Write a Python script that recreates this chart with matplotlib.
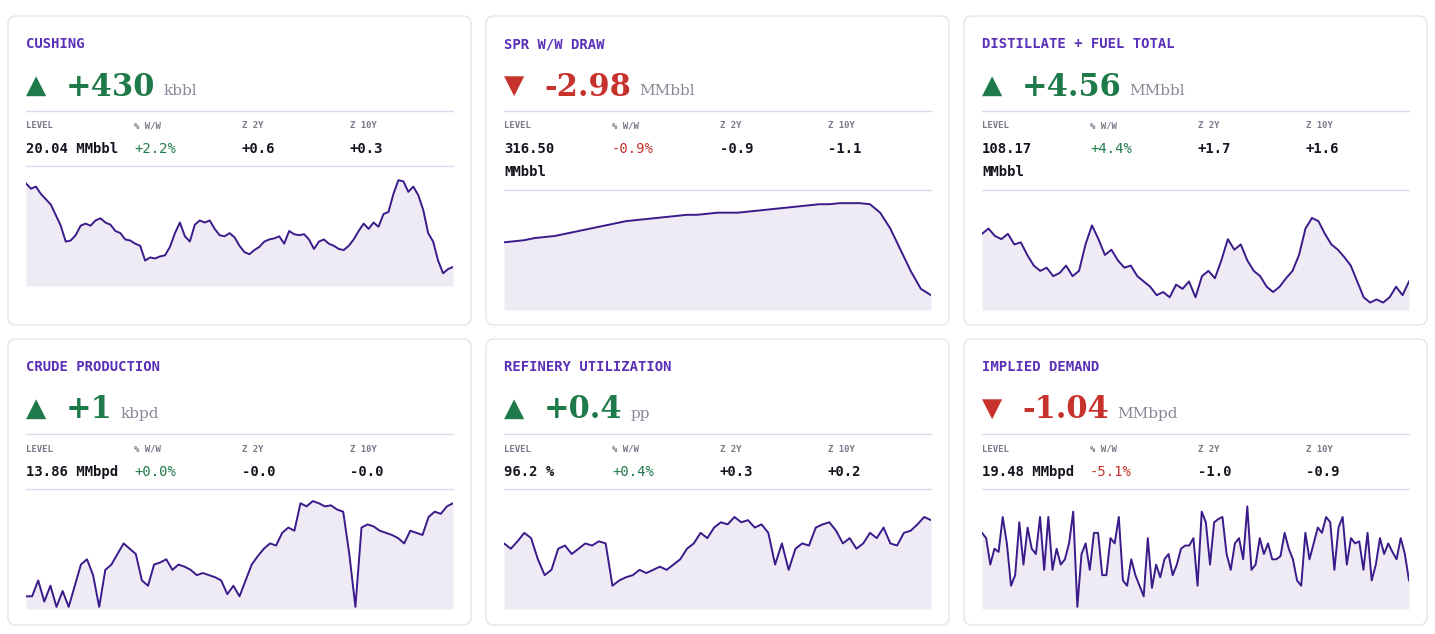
import matplotlib
matplotlib.use('agg')
import matplotlib.pyplot as plt
from matplotlib.patches import FancyBboxPatch

W, H = 1435, 634
GREEN = '#1f7a4a'
RED = '#c8322d'
PURPLE = '#5a2fb8'
LINE = '#3b1a8a'
FILL = '#efebf5'
SEP = '#dcd8ec'

cards = [
    {'title': 'CUSHING', 'up': True, 'delta': '+430', 'unit': 'kbbl',
     'level': ['20.04 MMbbl'], 'pct': '+2.2%', 'z2': '+0.6', 'z10': '+0.3',
     'data': [95, 90, 92, 85, 80, 75, 65, 55, 40, 41, 46, 55, 57, 55, 60, 62, 58, 56, 50, 48, 42, 41, 38, 36,
              22, 25, 24, 26, 27, 35, 48, 58, 45, 40, 56, 60, 58, 60, 52, 46, 45, 48, 44, 36, 30, 28, 32, 35,
              40, 42, 43, 45, 38, 50, 47, 46, 47, 42, 33, 40, 42, 38, 36, 33, 32, 36, 42, 50, 57, 52, 58, 54,
              66, 68, 85, 98, 97, 87, 92, 84, 70, 48, 40, 22, 10, 14, 16]},
    {'title': 'SPR W/W DRAW', 'up': False, 'delta': '-2.98', 'unit': 'MMbbl',
     'level': ['316.50', 'MMbbl'], 'pct': '-0.9%', 'z2': '-0.9', 'z10': '-1.1',
     'data': [62, 63, 64, 66, 67, 68, 70, 72, 74, 76, 78, 80, 82, 83, 84, 85, 86, 87, 88, 88, 89, 90, 90, 90,
              91, 92, 93, 94, 95, 96, 97, 98, 98, 99, 99, 99, 98, 90, 75, 55, 35, 18, 12]},
    {'title': 'DISTILLATE + FUEL TOTAL', 'up': True, 'delta': '+4.56', 'unit': 'MMbbl',
     'level': ['108.17', 'MMbbl'], 'pct': '+4.4%', 'z2': '+1.7', 'z10': '+1.6',
     'data': [70, 75, 68, 65, 70, 60, 62, 50, 40, 35, 38, 30, 33, 40, 30, 35, 60, 78, 65, 50, 55, 45, 38, 40,
              30, 25, 20, 12, 15, 10, 22, 18, 25, 10, 30, 35, 28, 45, 65, 55, 60, 45, 35, 30, 20, 15, 20, 28,
              35, 50, 75, 85, 82, 70, 60, 55, 48, 40, 25, 10, 5, 8, 5, 10, 20, 12, 25]},
    {'title': 'CRUDE PRODUCTION', 'up': True, 'delta': '+1', 'unit': 'kbpd',
     'level': ['13.86 MMbpd'], 'pct': '+0.0%', 'z2': '-0.0', 'z10': '-0.0',
     'data': [10, 10, 25, 5, 20, 0, 15, 0, 20, 40, 45, 30, 0, 35, 40, 50, 60, 55, 50, 25, 20, 40, 42, 45,
              35, 40, 38, 35, 30, 32, 30, 28, 25, 12, 20, 10, 25, 40, 48, 55, 60, 58, 70, 75, 72, 98, 95, 100,
              98, 95, 96, 92, 90, 50, 0, 75, 78, 76, 72, 70, 68, 65, 60, 72, 70, 68, 85, 90, 88, 95, 98]},
    {'title': 'REFINERY UTILIZATION', 'up': True, 'delta': '+0.4', 'unit': 'pp',
     'level': ['96.2 %'], 'pct': '+0.4%', 'z2': '+0.3', 'z10': '+0.2',
     'data': [60, 55, 62, 70, 65, 45, 30, 35, 55, 58, 50, 55, 60, 58, 62, 60, 20, 25, 28, 30, 35, 32, 35, 38,
              35, 40, 45, 55, 60, 70, 65, 75, 80, 78, 85, 80, 82, 75, 78, 70, 40, 60, 35, 55, 60, 58, 75, 78,
              80, 72, 60, 65, 55, 60, 70, 65, 75, 60, 58, 70, 72, 78, 85, 82]},
    {'title': 'IMPLIED DEMAND', 'up': False, 'delta': '-1.04', 'unit': 'MMbpd',
     'level': ['19.48 MMbpd'], 'pct': '-5.1%', 'z2': '-1.0', 'z10': '-0.9',
     'data': [70, 65, 40, 55, 52, 85, 60, 20, 30, 80, 40, 75, 55, 50, 85, 35, 85, 35, 55, 40, 45, 60, 90, 0,
              50, 60, 35, 70, 70, 30, 30, 65, 60, 85, 25, 20, 45, 30, 20, 10, 65, 18, 40, 28, 45, 50, 30, 40,
              55, 58, 58, 65, 20, 90, 80, 40, 80, 83, 85, 50, 35, 60, 65, 45, 95, 35, 40, 65, 50, 60, 45, 45,
              48, 70, 55, 45, 25, 20, 70, 45, 60, 75, 70, 85, 80, 35, 75, 85, 40, 65, 60, 62, 35, 70, 25, 40,
              65, 50, 60, 52, 45, 65, 50, 25]},
]

fig = plt.figure(figsize=(W / 100, H / 100), dpi=100)
bg = fig.add_axes([0, 0, 1, 1])
bg.set_xlim(0, W)
bg.set_ylim(H, 0)
bg.axis('off')

col_x = [8, 486, 964]
row_y = [16, 339]
card_w = 463
row_h = [309, 286]

for i, c in enumerate(cards):
    x0 = col_x[i % 3]
    y0 = row_y[i // 3]
    h = row_h[i // 3]
    bg.add_patch(FancyBboxPatch((x0, y0), card_w, h, boxstyle='round,pad=0,rounding_size=8',
                                fc='white', ec='#e4e4ec', lw=1))
    lx = x0 + 18
    rx = x0 + card_w - 18
    col = GREEN if c['up'] else RED
    bg.text(lx, y0 + 28, c['title'], fontsize=10, fontweight='bold', color=PURPLE,
            family='DejaVu Sans Mono', va='center')
    bg.text(lx, y0 + 70, '▲' if c['up'] else '▼', fontsize=19, color=col, va='center',
            family='DejaVu Sans')
    t = bg.text(lx + 40, y0 + 71, c['delta'], fontsize=22, fontweight='bold', color=col,
                family='DejaVu Serif', va='center')
    fig.canvas.draw() if i == 0 else None
    bb = t.get_window_extent(renderer=fig.canvas.get_renderer())
    bg.text(lx + 40 + bb.width + 8, y0 + 75, c['unit'], fontsize=11, color='#8a8898',
            family='DejaVu Serif', va='center')
    bg.plot([lx, rx], [y0 + 95, y0 + 95], color=SEP, lw=1)
    for k, lab in enumerate(['LEVEL', '% W/W', 'Z 2Y', 'Z 10Y']):
        bg.text(lx + k * 108, y0 + 110, lab, fontsize=6.5, color='#7a7888',
                family='DejaVu Sans Mono', fontweight='bold', va='center')
    for j, lv in enumerate(c['level']):
        bg.text(lx, y0 + 133 + j * 23, lv, fontsize=10, fontweight='bold', color='#15151f',
                family='DejaVu Sans Mono', va='center')
    pcol = GREEN if c['pct'].startswith('+') else RED
    bg.text(lx + 108, y0 + 133, c['pct'], fontsize=10, color=pcol, family='DejaVu Sans Mono', va='center')
    bg.text(lx + 216, y0 + 133, c['z2'], fontsize=10, fontweight='bold', color='#15151f',
            family='DejaVu Sans Mono', va='center')
    bg.text(lx + 324, y0 + 133, c['z10'], fontsize=10, fontweight='bold', color='#15151f',
            family='DejaVu Sans Mono', va='center')
    sep2 = y0 + 150 + 24 * (len(c['level']) - 1)
    bg.plot([lx, rx], [sep2, sep2], color=SEP, lw=1)
    top = sep2 + 10
    bot = top + 110
    ax = fig.add_axes([lx / W, 1 - bot / H, (rx - lx) / W, (bot - top) / H])
    d = c['data']
    xs = list(range(len(d)))
    ax.fill_between(xs, d, -2, color=FILL, lw=0)
    ax.plot(xs, d, color=LINE, lw=1.4)
    ax.set_xlim(0, len(d) - 1)
    ax.set_ylim(-2, 102)
    ax.axis('off')

fig.savefig('out.png', dpi=100, facecolor='white')
